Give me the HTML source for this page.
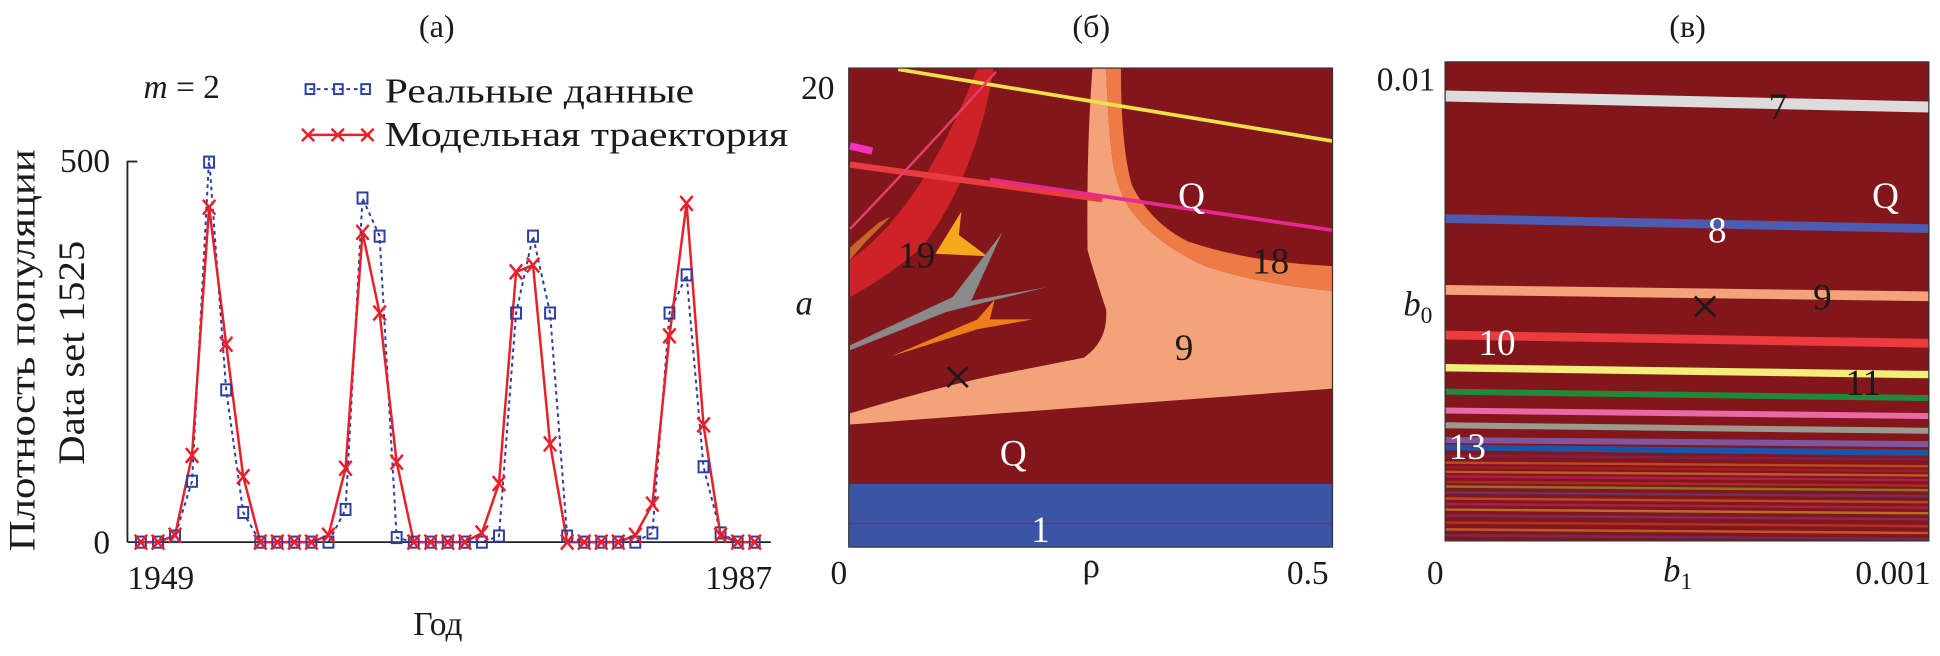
<!DOCTYPE html>
<html><head><meta charset="utf-8"><style>
html,body{margin:0;padding:0;background:#fff;}
svg{display:block;}
text{font-family:"Liberation Serif",serif;fill:#1a1a1a;}
</style></head><body>
<svg id="fig" width="1940" height="656" viewBox="0 0 1568 530" preserveAspectRatio="none" xmlns="http://www.w3.org/2000/svg">
<rect width="1568" height="530" fill="#fff"/>
<!-- Panel A -->
<g id="panelA">
  <text x="353" y="30" font-size="26" text-anchor="middle">(а)</text>
  <text x="116" y="79" font-size="27"><tspan font-style="italic">m</tspan> = 2</text>
  <g>
    <g>
      <line x1="250" y1="72" x2="298" y2="72" stroke="#2a3fa0" stroke-width="1.6" stroke-dasharray="3 3"/>
      <rect x="247" y="68" width="7" height="8" fill="none" stroke="#2a3fa0" stroke-width="1.6"/>
      <rect x="270" y="68" width="7" height="8" fill="none" stroke="#2a3fa0" stroke-width="1.6"/>
      <rect x="292" y="68" width="7" height="8" fill="none" stroke="#2a3fa0" stroke-width="1.6"/>
      <text x="311" y="83" font-size="28" textLength="250" lengthAdjust="spacingAndGlyphs">Реальные данные</text>
    </g>
    <g>
      <line x1="248" y1="109" x2="299" y2="109" stroke="#e8202a" stroke-width="2"/>
      <path d="M244,104 l10,10 M254,104 l-10,10 M268,104 l10,10 M278,104 l-10,10 M292,104 l10,10 M302,104 l-10,10" stroke="#e8202a" stroke-width="2"/>
      <text x="311" y="118" font-size="28" textLength="326" lengthAdjust="spacingAndGlyphs">Модельная траектория</text>
    </g>
  </g>
  <g transform="translate(28,283) rotate(-90)">
    <text x="0" y="0" font-size="30" text-anchor="middle" textLength="325" lengthAdjust="spacingAndGlyphs">Плотность популяции</text>
  </g>
  <g transform="translate(68,285) rotate(-90)">
    <text x="0" y="0" font-size="30" text-anchor="middle" textLength="181" lengthAdjust="spacingAndGlyphs">Data set 1525</text>
  </g>
  <line x1="103" y1="130" x2="103" y2="438" stroke="#222" stroke-width="1.5"/>
  <line x1="103" y1="130.5" x2="111" y2="130.5" stroke="#222" stroke-width="1.5"/>
  <line x1="103" y1="438" x2="623" y2="438" stroke="#222" stroke-width="1.5"/>
  <text x="89" y="139" font-size="27" text-anchor="end">500</text>
  <text x="89" y="447" font-size="27" text-anchor="end">0</text>
  <text x="130" y="476" font-size="27" text-anchor="middle">1949</text>
  <text x="597" y="476" font-size="27" text-anchor="middle">1987</text>
  <text x="354" y="513" font-size="27" text-anchor="middle">Год</text>
  <g id="seriesA"></g>
</g>

<!-- Panel B -->
<g id="panelB">
  <defs><clipPath id="clipB"><rect x="686" y="55" width="391" height="387"/></clipPath>
  <clipPath id="clipC"><rect x="1168" y="50" width="391" height="387"/></clipPath></defs>
  <text x="882" y="30" font-size="26" text-anchor="middle">(б)</text>
  <g clip-path="url(#clipB)">
    <rect x="686" y="55" width="391" height="387" fill="#83161a"/>
    <path d="M687,343 L687,334 Q760,312 810,302 Q860,292 876,289 Q896,275 894,250 Q884,220 879,202 Q878,120 883,55 L894,55 Q896,110 900,134 Q905,160 918,175 Q940,200 974,215 Q1020,230 1077,235 L1077,314 Z" fill="#f4a27a"/>
    <path d="M894,55 L906,55 Q906,120 915,150 Q930,180 960,195 Q1010,212 1077,215 L1077,235 Q1020,230 974,215 Q940,200 918,175 Q905,160 900,134 Q896,110 894,55 Z" fill="#ee7b45"/>
    <path d="M687,210 Q745,170 790,55 L803,55 Q790,140 745,200 Q715,225 687,240 Z" fill="#cf2228"/>
    <path d="M756,205 L777,171 L775,190 L798,207 Z" fill="#f5a81c"/>
    <path d="M687,279 L770,240 L810,188 L785,243 L846,232 L765,252 L687,283 Z" fill="#8a8a8a"/>
    <path d="M720,288 L790,258 L804,242 L800,258 L835,258 L790,266 Z" fill="#ee7d1c"/>
    <path d="M687,200 L710,180 L720,175 L700,195 L687,210 Z" fill="#c8632a"/>
    <line x1="726" y1="56" x2="1077" y2="114" stroke="#eee04a" stroke-width="3"/>
    <line x1="687" y1="133" x2="891" y2="161" stroke="#e83c40" stroke-width="5"/>
    <line x1="800" y1="145" x2="1077" y2="186" stroke="#e82a90" stroke-width="3"/>
    <line x1="687" y1="118" x2="705" y2="122" stroke="#f034c0" stroke-width="6"/>
    <path d="M687,185 Q740,130 805,58" stroke="#e0406a" stroke-width="2" fill="none"/>
    <rect x="686" y="391" width="391" height="52" fill="#3a55a4"/>
    <line x1="686" y1="423" x2="1077" y2="423" stroke="#8a2a50" stroke-width="1.2"/>
  </g>
  <rect x="686" y="55" width="391" height="387" fill="none" stroke="#333" stroke-width="1"/>
  <text x="963" y="168" font-size="30" style="fill:#fff" text-anchor="middle">Q</text>
  <text x="741" y="216" font-size="30" text-anchor="middle">19</text>
  <text x="1027" y="221" font-size="30" text-anchor="middle">18</text>
  <text x="957" y="291" font-size="30" text-anchor="middle">9</text>
  <text x="774" y="319" font-size="44" text-anchor="middle">×</text>
  <text x="819" y="376" font-size="30" style="fill:#fff" text-anchor="middle">Q</text>
  <text x="841" y="438" font-size="30" style="fill:#fff" text-anchor="middle">1</text>
  <text x="661" y="80" font-size="27" text-anchor="middle">20</text>
  <text x="650" y="254" font-size="28" font-style="italic" text-anchor="middle">a</text>
  <text x="678" y="472" font-size="27" text-anchor="middle">0</text>
  <text x="882" y="466" font-size="28" text-anchor="middle">ρ</text>
  <text x="1057" y="472" font-size="27" text-anchor="middle">0.5</text>
</g>

<!-- Panel C -->
<g id="panelC">
  <text x="1364" y="30" font-size="26" text-anchor="middle">(в)</text>
  <g clip-path="url(#clipC)">
    <rect x="1168" y="50" width="391" height="387" fill="#83161a"/>
    <g id="bandsC"></g>
  </g>
  <rect x="1168" y="50" width="391" height="387" fill="none" stroke="#333" stroke-width="1"/>
  <text x="1437" y="96" font-size="30" text-anchor="middle">7</text>
  <text x="1524" y="168" font-size="30" style="fill:#fff" text-anchor="middle">Q</text>
  <text x="1388" y="196" font-size="30" style="fill:#fff" text-anchor="middle">8</text>
  <text x="1473" y="250" font-size="30" text-anchor="middle">9</text>
  <text x="1378" y="262" font-size="44" text-anchor="middle">×</text>
  <text x="1210" y="287" font-size="30" style="fill:#fff" text-anchor="middle">10</text>
  <text x="1506" y="319" font-size="30" text-anchor="middle">11</text>
  <text x="1186" y="371" font-size="30" style="fill:#fff" text-anchor="middle">13</text>
  <text x="1160" y="73" font-size="27" text-anchor="end">0.01</text>
  <text x="1146" y="255" font-size="28" font-style="italic" text-anchor="middle">b<tspan font-size="19" font-style="normal" dy="6">0</tspan></text>
  <text x="1160" y="472" font-size="27" text-anchor="middle">0</text>
  <text x="1356" y="470" font-size="28" font-style="italic" text-anchor="middle">b<tspan font-size="19" font-style="normal" dy="6">1</tspan></text>
  <text x="1530" y="472" font-size="27" text-anchor="middle">0.001</text>
</g>
</svg>
<script>
// ---- Panel A data ----
const years = [1949,1950,1951,1952,1953,1954,1955,1956,1957,1958,1959,1960,1961,1962,1963,1964,1965,1966,1967,1968,1969,1970,1971,1972,1973,1974,1975,1976,1977,1978,1979,1980,1981,1982,1983,1984,1985];
const realData = [0,0,8,80,505,200,39,0,0,0,0,0,43,452,402,6,0,0,0,0,0,8,301,402,301,8,0,0,0,0,12,301,351,99,12,0,0];
const modelData = [0,0,9,114,440,260,86,0,0,0,0,9,97,407,301,105,0,0,0,0,12,77,355,364,129,0,0,0,0,9,50,271,445,154,9,0,0];
const yTicks = [0,500];

const NS = "http://www.w3.org/2000/svg";
const xScale = y => 113.9 + (y - 1949) * 13.78;
const yScale = v => 438 - v / 500 * 307.5;
const gA = document.getElementById('seriesA');

function poly(vals, stroke, width, dash, name) {
  const p = document.createElementNS(NS, 'polyline');
  p.setAttribute('points', vals.map((v, i) => xScale(years[i]).toFixed(1) + ',' + yScale(v).toFixed(1)).join(' '));
  p.setAttribute('fill', 'none');
  p.setAttribute('stroke', stroke);
  p.setAttribute('stroke-width', width);
  if (dash) p.setAttribute('stroke-dasharray', dash);
  
  
  gA.appendChild(p);
}
poly(realData, '#2a3fa0', 1.6, '3 3', 'real-data-line');
poly(modelData, '#e8202a', 2, null, 'model-line');
realData.forEach((v, i) => {
  const r = document.createElementNS(NS, 'rect');
  r.setAttribute('x', (xScale(years[i]) - 4).toFixed(1));
  r.setAttribute('y', (Math.max(yScale(v), 131) - 4.5).toFixed(1));
  r.setAttribute('width', 8);
  r.setAttribute('height', 9);
  r.setAttribute('fill', 'none');
  r.setAttribute('stroke', '#2a3fa0');
  r.setAttribute('stroke-width', 1.6);
  
  
  gA.appendChild(r);
});
modelData.forEach((v, i) => {
  const x = xScale(years[i]), y = yScale(v);
  const p = document.createElementNS(NS, 'path');
  p.setAttribute('d', `M${x-5},${y-6} L${x+5},${y+6} M${x+5},${y-6} L${x-5},${y+6}`);
  p.setAttribute('stroke', '#e8202a');
  p.setAttribute('stroke-width', 2);
  
  
  gA.appendChild(p);
});

// ---- Panel C data (b0 values of bands at b1=0 and b1=0.001) ----
const bandLeft  = [0.00966,0.00700,0.00545,0.00447,0.00376,0.00324,0.00283,0.00251,0.00219,0.00203];
const bandRight = [0.00942,0.00678,0.00531,0.00429,0.00361,0.00310,0.00271,0.00239,0.00210,0.00191];
const bandWidth = [0.00024,0.00019,0.00021,0.00019,0.00016,0.00013,0.00013,0.00013,0.00013,0.00013];
const bandColor = ['#dcdcdc','#4d5bb0','#f4a27a','#ec3b3f','#f2ee7a','#1f8a3c','#ea6aa8','#9a9a90','#8055a0','#1a55a8'];
const stripeB0 = [0.00185,0.00170,0.00160,0.00150,0.00140,0.00128,0.00118,0.00105,0.00092,0.00080,0.00068,0.00055,0.00040,0.00025,0.00012];
const stripeColor = ['#7a2a80','#ef7d2a','#c02040','#f0a030','#e0208a','#d04030','#9acd32','#5050b0','#ee8033','#c03080','#f0c040','#8040a0','#e05030','#f0a040','#6040a0'];

const b0Top = 0.0104;
const cx = b1 => 1168 + b1 / 0.001 * 391;
const cy = b0 => 437 - b0 / b0Top * 387;
const gC = document.getElementById('bandsC');
bandLeft.forEach((b, i) => {
  const h = bandWidth[i] / b0Top * 387;
  const p = document.createElementNS(NS, 'polygon');
  const yl = cy(b), yr = cy(bandRight[i]);
  p.setAttribute('points', `${cx(0)},${yl-h/2} ${cx(0.001)},${yr-h/2} ${cx(0.001)},${yr+h/2} ${cx(0)},${yl+h/2}`);
  p.setAttribute('fill', bandColor[i]);
  
  
  gC.appendChild(p);
});
stripeB0.forEach((b, i) => {
  const p = document.createElementNS(NS, 'polygon');
  const yl = cy(b), yr = cy(b - 0.00008);
  p.setAttribute('points', `${cx(0)},${yl-1} ${cx(0.001)},${yr-1} ${cx(0.001)},${yr+1} ${cx(0)},${yl+1}`);
  p.setAttribute('fill', stripeColor[i]);
  p.setAttribute('opacity', '0.5');
  
  
  gC.appendChild(p);
});
</script>
</body></html>
